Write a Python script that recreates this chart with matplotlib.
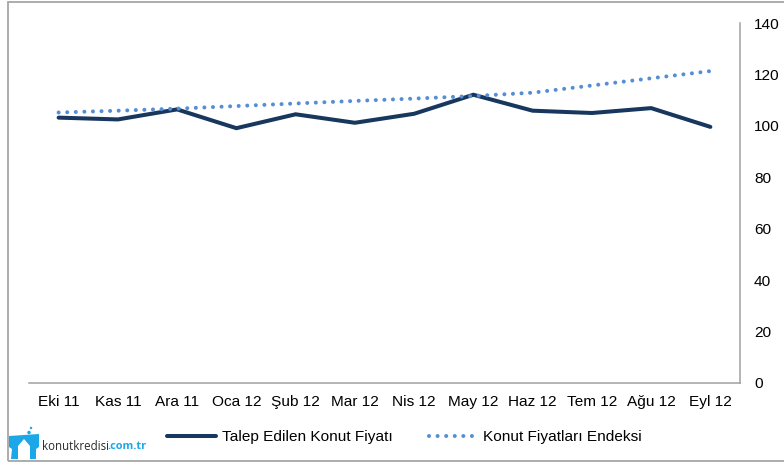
import matplotlib
matplotlib.use("Agg")
import matplotlib.pyplot as plt
from matplotlib.patches import Rectangle, Polygon, Ellipse

plt.rcParams['font.family'] = ['Liberation Sans', 'DejaVu Sans']

months = ["Eki 11", "Kas 11", "Ara 11", "Oca 12", "Şub 12", "Mar 12", "Nis 12",
          "May 12", "Haz 12", "Tem 12", "Ağu 12", "Eyl 12"]
talep = [103.2, 102.5, 106.4, 99.1, 104.5, 101.2, 104.7, 112.1, 105.9, 105.0, 106.9, 99.6]
endeks = [105.2, 105.9, 106.7, 107.7, 108.7, 109.7, 110.6, 111.6, 112.9, 115.7, 118.5, 121.3]
yticks = [0, 20, 40, 60, 80, 100, 120, 140]

W, H = 784, 463
FS = 11.1
fig = plt.figure(figsize=(W / 100, H / 100), dpi=100, facecolor="white")
ax = fig.add_axes([29 / W, 1 - 383 / H, (740 - 29) / W, 360 / H])
x = list(range(len(months)))
l1, = ax.plot(x, talep, color="#17375E", lw=2.9, solid_capstyle="round", solid_joinstyle="miter",
              label="Talep Edilen Konut Fiyatı")
l2, = ax.plot(x, endeks, color="#558ED5", lw=2.9, linestyle=(0, (0.01, 2.12)), dash_capstyle="round",
              label="Konut Fiyatları Endeksi")
ax.set_xlim(-0.5, 11.5)
ax.set_ylim(0, 140)
ax.set_xticks(x, months)
ax.set_yticks(yticks)
ax.yaxis.tick_right()
ax.tick_params(axis="both", length=0, labelsize=FS, colors="#000000")
ax.tick_params(axis="x", pad=16.7)
ax.tick_params(axis="y", pad=10)
for lab in ax.get_xticklabels():
    lab.set_verticalalignment("baseline")
for lab in ax.get_yticklabels():
    lab.set_verticalalignment("center_baseline")
for s in ("top", "left"):
    ax.spines[s].set_visible(False)
for s in ("right", "bottom"):
    ax.spines[s].set_color("#A0A0A0")
    ax.spines[s].set_linewidth(1.1)

# legend
fig.legend(handles=[l1, l2], loc="center left", bbox_to_anchor=(167 / W, 1 - 437.5 / H), ncol=2,
           frameon=False, fontsize=FS, handlelength=3.2, handletextpad=0.35, columnspacing=2.35,
           borderpad=0, borderaxespad=0)

# outer frame
fig.add_artist(Rectangle((8 / W, 1 - 461.3 / H), 780 / W, 459.3 / H, transform=fig.transFigure,
                         fill=False, edgecolor="#A6A6A6", linewidth=1.3))

# logo
logo = "#1CA7E8"
def P(px, py):
    return (px / W, 1 - py / H)
T = fig.transFigure
fig.add_artist(Polygon([P(9, 436), P(39, 434), P(39, 447), P(36, 449), P(36, 459), P(11, 459), P(12, 449), P(9, 447)],
                       closed=True, transform=T, facecolor=logo, edgecolor="none", zorder=5))
fig.add_artist(Polygon([P(24, 439), P(18, 446), P(18, 460), P(30, 460), P(30, 446)],
                       closed=True, transform=T, facecolor="white", edgecolor="none", zorder=6))
fig.add_artist(Ellipse(P(29, 432.5), 3.5 / W, 3.5 / H, transform=T, facecolor=logo, edgecolor="none"))
fig.add_artist(Ellipse(P(31, 428), 2.5 / W, 2.5 / H, transform=T, facecolor=logo, edgecolor="none"))
fig.text(42 / W, 1 - 446.5 / H, "konutkredisi", fontsize=8.3, color="#2B2B2B", va="center", ha="left",
         family="Open Sans")
fig.text(107 / W, 1 - 446.5 / H, ".com.tr", fontsize=7.9, color=logo, va="center", ha="left",
         family="Open Sans", weight="bold")

fig.savefig("out.png", dpi=100)
